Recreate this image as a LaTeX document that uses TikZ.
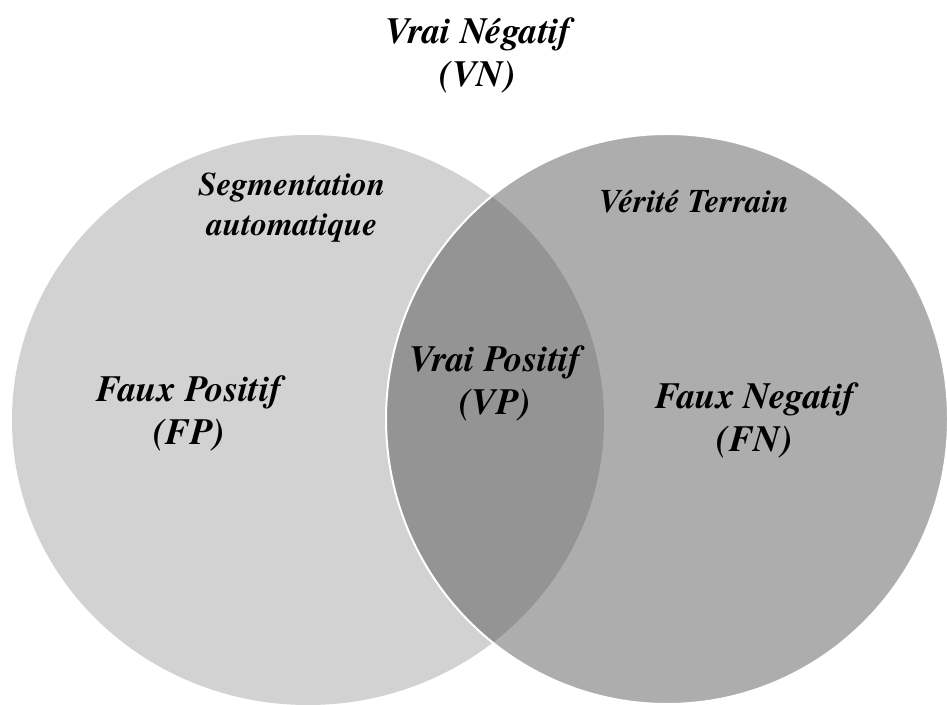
\documentclass[tikz,border=0pt]{standalone}
\usepackage{fontspec}
\setmainfont{texgyretermes}[
  Extension=.otf,
  UprightFont=*-regular,
  BoldFont=*-bold,
  ItalicFont=*-italic,
  BoldItalicFont=*-bolditalic]
\usetikzlibrary{positioning, shapes.geometric}

\definecolor{segfill}{RGB}{210,210,210}
\definecolor{vtfill}{RGB}{75,75,75}

\begin{document}
\begin{tikzpicture}[
            x=1pt, y=1pt,
            zone/.style={ellipse, inner sep=0pt},
            big/.style={align=center, font=\fontsize{37}{43}\selectfont\bfseries\itshape},
            small/.style={align=center, font=\fontsize{33}{40}\selectfont\bfseries\itshape}
        ]
            \useasboundingbox (0,0) rectangle (947,704);
            % les deux ensembles
            \node[zone, fill=segfill, minimum width=592pt, minimum height=570pt] (seg) at (308,284) {};
\node[zone, fill=vtfill, fill opacity=0.455, draw=white, line width=2pt, minimum width=562pt, minimum height=570pt] (vt) at (667,285) {};
            \node[big] (vn) at (478,649) {Vrai Négatif\\(VN)};
            \node[small] (segtitle) at (292,496) {Segmentation\\automatique};
\node[small] (vttitle) at (694,502) {Vérité Terrain};
            \node[big] (fp) at (189,291) {Faux Positif\\(FP)};
            \node[big] (vp) at (495,321) {Vrai Positif\\(VP)};
\node[big] (fn) at (755,284) {Faux Negatif\\(FN)};
        \end{tikzpicture}
\end{document}
